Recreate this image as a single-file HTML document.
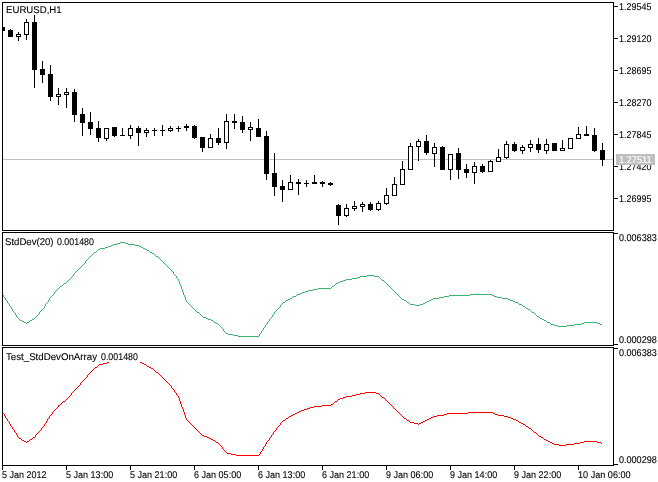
<!DOCTYPE html>
<html lang="en">
<head>
<meta charset="utf-8">
<title>EURUSD,H1</title>
<style>
html,body{margin:0;padding:0;background:#fff;}
svg{display:block}
text{font-family:"Liberation Sans", sans-serif;font-size:9.8px;white-space:pre;text-rendering:geometricPrecision;stroke-width:0.1px}
</style>
</head>
<body>
<svg width="658" height="482" viewBox="0 0 658 482" shape-rendering="crispEdges">
<rect x="0" y="0" width="658" height="482" fill="#fff"/>
<rect x="3" y="159" width="610" height="1" fill="#c0c0c0"/>
<rect x="2" y="27" width="1" height="4" fill="#000"/>
<rect x="3" y="27" width="2" height="4" fill="#000"/>
<rect x="10" y="29" width="1" height="8" fill="#000"/>
<rect x="8" y="30" width="5" height="7" fill="#000"/>
<rect x="18" y="32" width="1" height="9" fill="#000"/>
<rect x="16" y="34" width="5" height="3" fill="#000"/>
<rect x="17" y="35" width="3" height="1" fill="#fff"/>
<rect x="26" y="19" width="1" height="21" fill="#000"/>
<rect x="24" y="22" width="5" height="13" fill="#000"/>
<rect x="25" y="23" width="3" height="11" fill="#fff"/>
<rect x="34" y="15" width="1" height="73" fill="#000"/>
<rect x="32" y="22" width="5" height="48" fill="#000"/>
<rect x="42" y="61" width="1" height="22" fill="#000"/>
<rect x="40" y="69" width="5" height="6" fill="#000"/>
<rect x="50" y="65" width="1" height="36" fill="#000"/>
<rect x="48" y="74" width="5" height="23" fill="#000"/>
<rect x="58" y="88" width="1" height="17" fill="#000"/>
<rect x="56" y="94" width="5" height="3" fill="#000"/>
<rect x="57" y="95" width="3" height="1" fill="#fff"/>
<rect x="66" y="88" width="1" height="20" fill="#000"/>
<rect x="64" y="92" width="5" height="3" fill="#000"/>
<rect x="65" y="93" width="3" height="1" fill="#fff"/>
<rect x="74" y="89" width="1" height="33" fill="#000"/>
<rect x="72" y="92" width="5" height="23" fill="#000"/>
<rect x="82" y="108" width="1" height="28" fill="#000"/>
<rect x="80" y="114" width="5" height="9" fill="#000"/>
<rect x="90" y="112" width="1" height="23" fill="#000"/>
<rect x="88" y="122" width="5" height="7" fill="#000"/>
<rect x="98" y="121" width="1" height="21" fill="#000"/>
<rect x="96" y="128" width="5" height="10" fill="#000"/>
<rect x="106" y="128" width="1" height="13" fill="#000"/>
<rect x="104" y="128" width="5" height="11" fill="#000"/>
<rect x="105" y="129" width="3" height="9" fill="#fff"/>
<rect x="114" y="127" width="1" height="10" fill="#000"/>
<rect x="112" y="127" width="5" height="9" fill="#000"/>
<rect x="122" y="128" width="1" height="8" fill="#000"/>
<rect x="120" y="135" width="5" height="1" fill="#000"/>
<rect x="130" y="125" width="1" height="14" fill="#000"/>
<rect x="128" y="128" width="5" height="8" fill="#000"/>
<rect x="129" y="129" width="3" height="6" fill="#fff"/>
<rect x="138" y="126" width="1" height="20" fill="#000"/>
<rect x="136" y="128" width="5" height="5" fill="#000"/>
<rect x="146" y="128" width="1" height="9" fill="#000"/>
<rect x="144" y="130" width="5" height="3" fill="#000"/>
<rect x="145" y="131" width="3" height="1" fill="#fff"/>
<rect x="154" y="128" width="1" height="8" fill="#000"/>
<rect x="152" y="130" width="5" height="1" fill="#000"/>
<rect x="162" y="125" width="1" height="11" fill="#000"/>
<rect x="160" y="130" width="5" height="1" fill="#000"/>
<rect x="170" y="126" width="1" height="6" fill="#000"/>
<rect x="168" y="128" width="5" height="3" fill="#000"/>
<rect x="169" y="129" width="3" height="1" fill="#fff"/>
<rect x="178" y="126" width="1" height="6" fill="#000"/>
<rect x="176" y="128" width="5" height="1" fill="#000"/>
<rect x="186" y="124" width="1" height="7" fill="#000"/>
<rect x="184" y="126" width="5" height="2" fill="#000"/>
<rect x="194" y="125" width="1" height="14" fill="#000"/>
<rect x="192" y="126" width="5" height="12" fill="#000"/>
<rect x="202" y="137" width="1" height="15" fill="#000"/>
<rect x="200" y="137" width="5" height="11" fill="#000"/>
<rect x="210" y="134" width="1" height="14" fill="#000"/>
<rect x="208" y="138" width="5" height="10" fill="#000"/>
<rect x="209" y="139" width="3" height="8" fill="#fff"/>
<rect x="218" y="128" width="1" height="17" fill="#000"/>
<rect x="216" y="138" width="5" height="5" fill="#000"/>
<rect x="226" y="114" width="1" height="35" fill="#000"/>
<rect x="224" y="121" width="5" height="22" fill="#000"/>
<rect x="225" y="122" width="3" height="20" fill="#fff"/>
<rect x="234" y="114" width="1" height="15" fill="#000"/>
<rect x="232" y="121" width="5" height="2" fill="#000"/>
<rect x="242" y="116" width="1" height="17" fill="#000"/>
<rect x="240" y="122" width="5" height="8" fill="#000"/>
<rect x="250" y="122" width="1" height="19" fill="#000"/>
<rect x="248" y="127" width="5" height="3" fill="#000"/>
<rect x="249" y="128" width="3" height="1" fill="#fff"/>
<rect x="258" y="119" width="1" height="18" fill="#000"/>
<rect x="256" y="128" width="5" height="9" fill="#000"/>
<rect x="266" y="131" width="1" height="49" fill="#000"/>
<rect x="264" y="136" width="5" height="38" fill="#000"/>
<rect x="274" y="153" width="1" height="43" fill="#000"/>
<rect x="272" y="173" width="5" height="14" fill="#000"/>
<rect x="282" y="180" width="1" height="22" fill="#000"/>
<rect x="280" y="186" width="5" height="4" fill="#000"/>
<rect x="290" y="175" width="1" height="15" fill="#000"/>
<rect x="288" y="182" width="5" height="8" fill="#000"/>
<rect x="289" y="183" width="3" height="6" fill="#fff"/>
<rect x="298" y="179" width="1" height="16" fill="#000"/>
<rect x="296" y="182" width="5" height="2" fill="#000"/>
<rect x="306" y="180" width="1" height="7" fill="#000"/>
<rect x="304" y="183" width="5" height="1" fill="#000"/>
<rect x="314" y="175" width="1" height="9" fill="#000"/>
<rect x="312" y="182" width="5" height="2" fill="#000"/>
<rect x="322" y="181" width="1" height="6" fill="#000"/>
<rect x="320" y="182" width="5" height="2" fill="#000"/>
<rect x="330" y="182" width="1" height="4" fill="#000"/>
<rect x="328" y="183" width="5" height="2" fill="#000"/>
<rect x="338" y="204" width="1" height="21" fill="#000"/>
<rect x="336" y="205" width="5" height="11" fill="#000"/>
<rect x="346" y="204" width="1" height="13" fill="#000"/>
<rect x="344" y="208" width="5" height="8" fill="#000"/>
<rect x="345" y="209" width="3" height="6" fill="#fff"/>
<rect x="354" y="201" width="1" height="10" fill="#000"/>
<rect x="352" y="206" width="5" height="3" fill="#000"/>
<rect x="353" y="207" width="3" height="1" fill="#fff"/>
<rect x="362" y="202" width="1" height="10" fill="#000"/>
<rect x="360" y="204" width="5" height="3" fill="#000"/>
<rect x="361" y="205" width="3" height="1" fill="#fff"/>
<rect x="370" y="202" width="1" height="9" fill="#000"/>
<rect x="368" y="204" width="5" height="6" fill="#000"/>
<rect x="378" y="201" width="1" height="10" fill="#000"/>
<rect x="376" y="203" width="5" height="7" fill="#000"/>
<rect x="377" y="204" width="3" height="5" fill="#fff"/>
<rect x="386" y="188" width="1" height="17" fill="#000"/>
<rect x="384" y="195" width="5" height="9" fill="#000"/>
<rect x="385" y="196" width="3" height="7" fill="#fff"/>
<rect x="394" y="177" width="1" height="19" fill="#000"/>
<rect x="392" y="184" width="5" height="12" fill="#000"/>
<rect x="393" y="185" width="3" height="10" fill="#fff"/>
<rect x="402" y="161" width="1" height="24" fill="#000"/>
<rect x="400" y="169" width="5" height="16" fill="#000"/>
<rect x="401" y="170" width="3" height="14" fill="#fff"/>
<rect x="410" y="143" width="1" height="27" fill="#000"/>
<rect x="408" y="146" width="5" height="24" fill="#000"/>
<rect x="409" y="147" width="3" height="22" fill="#fff"/>
<rect x="418" y="139" width="1" height="22" fill="#000"/>
<rect x="416" y="141" width="5" height="6" fill="#000"/>
<rect x="417" y="142" width="3" height="4" fill="#fff"/>
<rect x="426" y="135" width="1" height="20" fill="#000"/>
<rect x="424" y="141" width="5" height="12" fill="#000"/>
<rect x="434" y="143" width="1" height="24" fill="#000"/>
<rect x="432" y="147" width="5" height="7" fill="#000"/>
<rect x="433" y="148" width="3" height="5" fill="#fff"/>
<rect x="442" y="146" width="1" height="24" fill="#000"/>
<rect x="440" y="147" width="5" height="23" fill="#000"/>
<rect x="450" y="154" width="1" height="26" fill="#000"/>
<rect x="448" y="154" width="5" height="16" fill="#000"/>
<rect x="449" y="155" width="3" height="14" fill="#fff"/>
<rect x="458" y="148" width="1" height="31" fill="#000"/>
<rect x="456" y="153" width="5" height="17" fill="#000"/>
<rect x="466" y="164" width="1" height="14" fill="#000"/>
<rect x="464" y="169" width="5" height="4" fill="#000"/>
<rect x="474" y="162" width="1" height="22" fill="#000"/>
<rect x="472" y="166" width="5" height="7" fill="#000"/>
<rect x="473" y="167" width="3" height="5" fill="#fff"/>
<rect x="482" y="164" width="1" height="9" fill="#000"/>
<rect x="480" y="166" width="5" height="6" fill="#000"/>
<rect x="490" y="160" width="1" height="12" fill="#000"/>
<rect x="488" y="161" width="5" height="11" fill="#000"/>
<rect x="489" y="162" width="3" height="9" fill="#fff"/>
<rect x="498" y="149" width="1" height="13" fill="#000"/>
<rect x="496" y="157" width="5" height="5" fill="#000"/>
<rect x="497" y="158" width="3" height="3" fill="#fff"/>
<rect x="506" y="141" width="1" height="18" fill="#000"/>
<rect x="504" y="144" width="5" height="14" fill="#000"/>
<rect x="505" y="145" width="3" height="12" fill="#fff"/>
<rect x="514" y="142" width="1" height="10" fill="#000"/>
<rect x="512" y="144" width="5" height="7" fill="#000"/>
<rect x="522" y="145" width="1" height="9" fill="#000"/>
<rect x="520" y="147" width="5" height="4" fill="#000"/>
<rect x="521" y="148" width="3" height="2" fill="#fff"/>
<rect x="530" y="140" width="1" height="12" fill="#000"/>
<rect x="528" y="144" width="5" height="4" fill="#000"/>
<rect x="529" y="145" width="3" height="2" fill="#fff"/>
<rect x="538" y="138" width="1" height="15" fill="#000"/>
<rect x="536" y="144" width="5" height="6" fill="#000"/>
<rect x="546" y="139" width="1" height="15" fill="#000"/>
<rect x="544" y="144" width="5" height="7" fill="#000"/>
<rect x="545" y="145" width="3" height="5" fill="#fff"/>
<rect x="554" y="143" width="1" height="8" fill="#000"/>
<rect x="552" y="143" width="5" height="8" fill="#000"/>
<rect x="562" y="140" width="1" height="11" fill="#000"/>
<rect x="560" y="148" width="5" height="3" fill="#000"/>
<rect x="561" y="149" width="3" height="1" fill="#fff"/>
<rect x="570" y="138" width="1" height="11" fill="#000"/>
<rect x="568" y="138" width="5" height="11" fill="#000"/>
<rect x="569" y="139" width="3" height="9" fill="#fff"/>
<rect x="578" y="127" width="1" height="12" fill="#000"/>
<rect x="576" y="134" width="5" height="5" fill="#000"/>
<rect x="577" y="135" width="3" height="3" fill="#fff"/>
<rect x="586" y="126" width="1" height="10" fill="#000"/>
<rect x="584" y="134" width="5" height="2" fill="#000"/>
<rect x="594" y="128" width="1" height="24" fill="#000"/>
<rect x="592" y="135" width="5" height="16" fill="#000"/>
<rect x="602" y="143" width="1" height="23" fill="#000"/>
<rect x="600" y="150" width="5" height="10" fill="#000"/>
<rect x="3" y="295" width="1" height="1" fill="#3cb371"/>
<rect x="52" y="295" width="1" height="1" fill="#3cb371"/>
<rect x="184" y="295" width="1" height="1" fill="#3cb371"/>
<rect x="296" y="295" width="1" height="1" fill="#3cb371"/>
<rect x="398" y="295" width="1" height="1" fill="#3cb371"/>
<rect x="449" y="295" width="21" height="1" fill="#3cb371"/>
<rect x="492" y="295" width="2" height="1" fill="#3cb371"/>
<rect x="3" y="296" width="1" height="1" fill="#3cb371"/>
<rect x="51" y="296" width="1" height="1" fill="#3cb371"/>
<rect x="184" y="296" width="1" height="1" fill="#3cb371"/>
<rect x="293" y="296" width="3" height="1" fill="#3cb371"/>
<rect x="399" y="296" width="1" height="1" fill="#3cb371"/>
<rect x="444" y="296" width="5" height="1" fill="#3cb371"/>
<rect x="494" y="296" width="3" height="1" fill="#3cb371"/>
<rect x="4" y="297" width="1" height="1" fill="#3cb371"/>
<rect x="50" y="297" width="1" height="1" fill="#3cb371"/>
<rect x="185" y="297" width="1" height="1" fill="#3cb371"/>
<rect x="292" y="297" width="1" height="1" fill="#3cb371"/>
<rect x="400" y="297" width="1" height="1" fill="#3cb371"/>
<rect x="439" y="297" width="5" height="1" fill="#3cb371"/>
<rect x="497" y="297" width="5" height="1" fill="#3cb371"/>
<rect x="5" y="298" width="1" height="1" fill="#3cb371"/>
<rect x="49" y="298" width="1" height="1" fill="#3cb371"/>
<rect x="185" y="298" width="1" height="1" fill="#3cb371"/>
<rect x="290" y="298" width="2" height="1" fill="#3cb371"/>
<rect x="401" y="298" width="1" height="1" fill="#3cb371"/>
<rect x="433" y="298" width="6" height="1" fill="#3cb371"/>
<rect x="502" y="298" width="6" height="1" fill="#3cb371"/>
<rect x="5" y="299" width="1" height="1" fill="#3cb371"/>
<rect x="49" y="299" width="1" height="1" fill="#3cb371"/>
<rect x="185" y="299" width="1" height="1" fill="#3cb371"/>
<rect x="288" y="299" width="2" height="1" fill="#3cb371"/>
<rect x="402" y="299" width="2" height="1" fill="#3cb371"/>
<rect x="431" y="299" width="2" height="1" fill="#3cb371"/>
<rect x="508" y="299" width="2" height="1" fill="#3cb371"/>
<rect x="6" y="300" width="1" height="1" fill="#3cb371"/>
<rect x="48" y="300" width="1" height="1" fill="#3cb371"/>
<rect x="186" y="300" width="1" height="1" fill="#3cb371"/>
<rect x="286" y="300" width="2" height="1" fill="#3cb371"/>
<rect x="404" y="300" width="2" height="1" fill="#3cb371"/>
<rect x="429" y="300" width="2" height="1" fill="#3cb371"/>
<rect x="510" y="300" width="3" height="1" fill="#3cb371"/>
<rect x="7" y="301" width="1" height="1" fill="#3cb371"/>
<rect x="48" y="301" width="1" height="1" fill="#3cb371"/>
<rect x="186" y="301" width="1" height="1" fill="#3cb371"/>
<rect x="285" y="301" width="1" height="1" fill="#3cb371"/>
<rect x="406" y="301" width="1" height="1" fill="#3cb371"/>
<rect x="427" y="301" width="2" height="1" fill="#3cb371"/>
<rect x="513" y="301" width="2" height="1" fill="#3cb371"/>
<rect x="7" y="302" width="1" height="1" fill="#3cb371"/>
<rect x="47" y="302" width="1" height="1" fill="#3cb371"/>
<rect x="187" y="302" width="1" height="1" fill="#3cb371"/>
<rect x="283" y="302" width="2" height="1" fill="#3cb371"/>
<rect x="407" y="302" width="2" height="1" fill="#3cb371"/>
<rect x="425" y="302" width="2" height="1" fill="#3cb371"/>
<rect x="515" y="302" width="3" height="1" fill="#3cb371"/>
<rect x="8" y="303" width="1" height="1" fill="#3cb371"/>
<rect x="46" y="303" width="1" height="1" fill="#3cb371"/>
<rect x="188" y="303" width="1" height="1" fill="#3cb371"/>
<rect x="282" y="303" width="1" height="1" fill="#3cb371"/>
<rect x="409" y="303" width="1" height="1" fill="#3cb371"/>
<rect x="423" y="303" width="2" height="1" fill="#3cb371"/>
<rect x="518" y="303" width="1" height="1" fill="#3cb371"/>
<rect x="9" y="304" width="1" height="1" fill="#3cb371"/>
<rect x="45" y="304" width="1" height="1" fill="#3cb371"/>
<rect x="189" y="304" width="1" height="1" fill="#3cb371"/>
<rect x="281" y="304" width="1" height="1" fill="#3cb371"/>
<rect x="410" y="304" width="5" height="1" fill="#3cb371"/>
<rect x="420" y="304" width="3" height="1" fill="#3cb371"/>
<rect x="519" y="304" width="3" height="1" fill="#3cb371"/>
<rect x="9" y="305" width="1" height="1" fill="#3cb371"/>
<rect x="45" y="305" width="1" height="1" fill="#3cb371"/>
<rect x="190" y="305" width="1" height="1" fill="#3cb371"/>
<rect x="280" y="305" width="1" height="1" fill="#3cb371"/>
<rect x="415" y="305" width="5" height="1" fill="#3cb371"/>
<rect x="522" y="305" width="1" height="1" fill="#3cb371"/>
<rect x="10" y="306" width="1" height="1" fill="#3cb371"/>
<rect x="44" y="306" width="1" height="1" fill="#3cb371"/>
<rect x="191" y="306" width="1" height="1" fill="#3cb371"/>
<rect x="280" y="306" width="1" height="1" fill="#3cb371"/>
<rect x="523" y="306" width="2" height="1" fill="#3cb371"/>
<rect x="11" y="307" width="1" height="1" fill="#3cb371"/>
<rect x="44" y="307" width="1" height="1" fill="#3cb371"/>
<rect x="192" y="307" width="1" height="1" fill="#3cb371"/>
<rect x="279" y="307" width="1" height="1" fill="#3cb371"/>
<rect x="525" y="307" width="1" height="1" fill="#3cb371"/>
<rect x="11" y="308" width="1" height="1" fill="#3cb371"/>
<rect x="43" y="308" width="1" height="1" fill="#3cb371"/>
<rect x="193" y="308" width="1" height="1" fill="#3cb371"/>
<rect x="278" y="308" width="1" height="1" fill="#3cb371"/>
<rect x="526" y="308" width="2" height="1" fill="#3cb371"/>
<rect x="12" y="309" width="1" height="1" fill="#3cb371"/>
<rect x="42" y="309" width="1" height="1" fill="#3cb371"/>
<rect x="194" y="309" width="1" height="1" fill="#3cb371"/>
<rect x="277" y="309" width="1" height="1" fill="#3cb371"/>
<rect x="528" y="309" width="2" height="1" fill="#3cb371"/>
<rect x="12" y="310" width="1" height="1" fill="#3cb371"/>
<rect x="41" y="310" width="1" height="1" fill="#3cb371"/>
<rect x="195" y="310" width="1" height="1" fill="#3cb371"/>
<rect x="276" y="310" width="1" height="1" fill="#3cb371"/>
<rect x="530" y="310" width="1" height="1" fill="#3cb371"/>
<rect x="13" y="311" width="1" height="1" fill="#3cb371"/>
<rect x="40" y="311" width="1" height="1" fill="#3cb371"/>
<rect x="196" y="311" width="1" height="1" fill="#3cb371"/>
<rect x="275" y="311" width="1" height="1" fill="#3cb371"/>
<rect x="531" y="311" width="1" height="1" fill="#3cb371"/>
<rect x="14" y="312" width="1" height="1" fill="#3cb371"/>
<rect x="39" y="312" width="1" height="1" fill="#3cb371"/>
<rect x="197" y="312" width="2" height="1" fill="#3cb371"/>
<rect x="274" y="312" width="1" height="1" fill="#3cb371"/>
<rect x="532" y="312" width="2" height="1" fill="#3cb371"/>
<rect x="15" y="313" width="1" height="1" fill="#3cb371"/>
<rect x="39" y="313" width="1" height="1" fill="#3cb371"/>
<rect x="199" y="313" width="1" height="1" fill="#3cb371"/>
<rect x="274" y="313" width="1" height="1" fill="#3cb371"/>
<rect x="534" y="313" width="1" height="1" fill="#3cb371"/>
<rect x="15" y="314" width="1" height="1" fill="#3cb371"/>
<rect x="38" y="314" width="1" height="1" fill="#3cb371"/>
<rect x="200" y="314" width="1" height="1" fill="#3cb371"/>
<rect x="273" y="314" width="1" height="1" fill="#3cb371"/>
<rect x="535" y="314" width="1" height="1" fill="#3cb371"/>
<rect x="16" y="315" width="1" height="1" fill="#3cb371"/>
<rect x="37" y="315" width="1" height="1" fill="#3cb371"/>
<rect x="201" y="315" width="1" height="1" fill="#3cb371"/>
<rect x="272" y="315" width="1" height="1" fill="#3cb371"/>
<rect x="536" y="315" width="1" height="1" fill="#3cb371"/>
<rect x="16" y="316" width="1" height="1" fill="#3cb371"/>
<rect x="36" y="316" width="1" height="1" fill="#3cb371"/>
<rect x="202" y="316" width="1" height="1" fill="#3cb371"/>
<rect x="272" y="316" width="1" height="1" fill="#3cb371"/>
<rect x="537" y="316" width="2" height="1" fill="#3cb371"/>
<rect x="17" y="317" width="1" height="1" fill="#3cb371"/>
<rect x="35" y="317" width="1" height="1" fill="#3cb371"/>
<rect x="203" y="317" width="3" height="1" fill="#3cb371"/>
<rect x="271" y="317" width="1" height="1" fill="#3cb371"/>
<rect x="539" y="317" width="1" height="1" fill="#3cb371"/>
<rect x="18" y="318" width="1" height="1" fill="#3cb371"/>
<rect x="34" y="318" width="1" height="1" fill="#3cb371"/>
<rect x="206" y="318" width="2" height="1" fill="#3cb371"/>
<rect x="270" y="318" width="1" height="1" fill="#3cb371"/>
<rect x="540" y="318" width="2" height="1" fill="#3cb371"/>
<rect x="19" y="319" width="1" height="1" fill="#3cb371"/>
<rect x="32" y="319" width="2" height="1" fill="#3cb371"/>
<rect x="208" y="319" width="3" height="1" fill="#3cb371"/>
<rect x="269" y="319" width="1" height="1" fill="#3cb371"/>
<rect x="542" y="319" width="2" height="1" fill="#3cb371"/>
<rect x="20" y="320" width="2" height="1" fill="#3cb371"/>
<rect x="30" y="320" width="2" height="1" fill="#3cb371"/>
<rect x="211" y="320" width="2" height="1" fill="#3cb371"/>
<rect x="269" y="320" width="1" height="1" fill="#3cb371"/>
<rect x="544" y="320" width="2" height="1" fill="#3cb371"/>
<rect x="22" y="321" width="2" height="1" fill="#3cb371"/>
<rect x="29" y="321" width="1" height="1" fill="#3cb371"/>
<rect x="213" y="321" width="1" height="1" fill="#3cb371"/>
<rect x="268" y="321" width="1" height="1" fill="#3cb371"/>
<rect x="546" y="321" width="1" height="1" fill="#3cb371"/>
<rect x="24" y="322" width="2" height="1" fill="#3cb371"/>
<rect x="27" y="322" width="2" height="1" fill="#3cb371"/>
<rect x="214" y="322" width="2" height="1" fill="#3cb371"/>
<rect x="267" y="322" width="1" height="1" fill="#3cb371"/>
<rect x="547" y="322" width="3" height="1" fill="#3cb371"/>
<rect x="584" y="322" width="13" height="1" fill="#3cb371"/>
<rect x="26" y="323" width="1" height="1" fill="#3cb371"/>
<rect x="216" y="323" width="2" height="1" fill="#3cb371"/>
<rect x="267" y="323" width="1" height="1" fill="#3cb371"/>
<rect x="550" y="323" width="1" height="1" fill="#3cb371"/>
<rect x="581" y="323" width="3" height="1" fill="#3cb371"/>
<rect x="597" y="323" width="3" height="1" fill="#3cb371"/>
<rect x="53" y="294" width="1" height="1" fill="#3cb371"/>
<rect x="183" y="294" width="1" height="1" fill="#3cb371"/>
<rect x="297" y="294" width="3" height="1" fill="#3cb371"/>
<rect x="397" y="294" width="1" height="1" fill="#3cb371"/>
<rect x="470" y="294" width="22" height="1" fill="#3cb371"/>
<rect x="54" y="292" width="1" height="1" fill="#3cb371"/>
<rect x="183" y="292" width="1" height="1" fill="#3cb371"/>
<rect x="302" y="292" width="3" height="1" fill="#3cb371"/>
<rect x="395" y="292" width="1" height="1" fill="#3cb371"/>
<rect x="54" y="293" width="1" height="1" fill="#3cb371"/>
<rect x="183" y="293" width="1" height="1" fill="#3cb371"/>
<rect x="300" y="293" width="2" height="1" fill="#3cb371"/>
<rect x="396" y="293" width="1" height="1" fill="#3cb371"/>
<rect x="55" y="291" width="1" height="1" fill="#3cb371"/>
<rect x="182" y="291" width="1" height="1" fill="#3cb371"/>
<rect x="305" y="291" width="3" height="1" fill="#3cb371"/>
<rect x="394" y="291" width="1" height="1" fill="#3cb371"/>
<rect x="56" y="290" width="1" height="1" fill="#3cb371"/>
<rect x="182" y="290" width="1" height="1" fill="#3cb371"/>
<rect x="308" y="290" width="5" height="1" fill="#3cb371"/>
<rect x="393" y="290" width="1" height="1" fill="#3cb371"/>
<rect x="57" y="289" width="1" height="1" fill="#3cb371"/>
<rect x="182" y="289" width="1" height="1" fill="#3cb371"/>
<rect x="313" y="289" width="5" height="1" fill="#3cb371"/>
<rect x="392" y="289" width="1" height="1" fill="#3cb371"/>
<rect x="58" y="288" width="1" height="1" fill="#3cb371"/>
<rect x="181" y="288" width="1" height="1" fill="#3cb371"/>
<rect x="318" y="288" width="13" height="1" fill="#3cb371"/>
<rect x="391" y="288" width="1" height="1" fill="#3cb371"/>
<rect x="59" y="287" width="1" height="1" fill="#3cb371"/>
<rect x="181" y="287" width="1" height="1" fill="#3cb371"/>
<rect x="331" y="287" width="1" height="1" fill="#3cb371"/>
<rect x="390" y="287" width="1" height="1" fill="#3cb371"/>
<rect x="60" y="286" width="2" height="1" fill="#3cb371"/>
<rect x="181" y="286" width="1" height="1" fill="#3cb371"/>
<rect x="332" y="286" width="2" height="1" fill="#3cb371"/>
<rect x="389" y="286" width="1" height="1" fill="#3cb371"/>
<rect x="62" y="285" width="1" height="1" fill="#3cb371"/>
<rect x="180" y="285" width="1" height="1" fill="#3cb371"/>
<rect x="334" y="285" width="1" height="1" fill="#3cb371"/>
<rect x="388" y="285" width="1" height="1" fill="#3cb371"/>
<rect x="63" y="284" width="1" height="1" fill="#3cb371"/>
<rect x="180" y="284" width="1" height="1" fill="#3cb371"/>
<rect x="335" y="284" width="1" height="1" fill="#3cb371"/>
<rect x="387" y="284" width="1" height="1" fill="#3cb371"/>
<rect x="64" y="283" width="2" height="1" fill="#3cb371"/>
<rect x="179" y="283" width="1" height="1" fill="#3cb371"/>
<rect x="336" y="283" width="2" height="1" fill="#3cb371"/>
<rect x="386" y="283" width="1" height="1" fill="#3cb371"/>
<rect x="66" y="282" width="1" height="1" fill="#3cb371"/>
<rect x="179" y="282" width="1" height="1" fill="#3cb371"/>
<rect x="338" y="282" width="2" height="1" fill="#3cb371"/>
<rect x="385" y="282" width="1" height="1" fill="#3cb371"/>
<rect x="67" y="281" width="1" height="1" fill="#3cb371"/>
<rect x="179" y="281" width="1" height="1" fill="#3cb371"/>
<rect x="340" y="281" width="3" height="1" fill="#3cb371"/>
<rect x="384" y="281" width="1" height="1" fill="#3cb371"/>
<rect x="68" y="280" width="1" height="1" fill="#3cb371"/>
<rect x="178" y="280" width="1" height="1" fill="#3cb371"/>
<rect x="343" y="280" width="3" height="1" fill="#3cb371"/>
<rect x="382" y="280" width="2" height="1" fill="#3cb371"/>
<rect x="69" y="279" width="1" height="1" fill="#3cb371"/>
<rect x="178" y="279" width="1" height="1" fill="#3cb371"/>
<rect x="346" y="279" width="6" height="1" fill="#3cb371"/>
<rect x="381" y="279" width="1" height="1" fill="#3cb371"/>
<rect x="70" y="278" width="1" height="1" fill="#3cb371"/>
<rect x="177" y="278" width="1" height="1" fill="#3cb371"/>
<rect x="352" y="278" width="5" height="1" fill="#3cb371"/>
<rect x="380" y="278" width="1" height="1" fill="#3cb371"/>
<rect x="71" y="277" width="1" height="1" fill="#3cb371"/>
<rect x="176" y="277" width="1" height="1" fill="#3cb371"/>
<rect x="357" y="277" width="3" height="1" fill="#3cb371"/>
<rect x="379" y="277" width="1" height="1" fill="#3cb371"/>
<rect x="72" y="276" width="1" height="1" fill="#3cb371"/>
<rect x="176" y="276" width="1" height="1" fill="#3cb371"/>
<rect x="360" y="276" width="7" height="1" fill="#3cb371"/>
<rect x="374" y="276" width="5" height="1" fill="#3cb371"/>
<rect x="73" y="274" width="1" height="1" fill="#3cb371"/>
<rect x="174" y="274" width="1" height="1" fill="#3cb371"/>
<rect x="73" y="275" width="1" height="1" fill="#3cb371"/>
<rect x="175" y="275" width="1" height="1" fill="#3cb371"/>
<rect x="367" y="275" width="7" height="1" fill="#3cb371"/>
<rect x="74" y="273" width="1" height="1" fill="#3cb371"/>
<rect x="173" y="273" width="1" height="1" fill="#3cb371"/>
<rect x="75" y="272" width="1" height="1" fill="#3cb371"/>
<rect x="173" y="272" width="1" height="1" fill="#3cb371"/>
<rect x="76" y="271" width="1" height="1" fill="#3cb371"/>
<rect x="172" y="271" width="1" height="1" fill="#3cb371"/>
<rect x="77" y="270" width="1" height="1" fill="#3cb371"/>
<rect x="171" y="270" width="1" height="1" fill="#3cb371"/>
<rect x="78" y="269" width="1" height="1" fill="#3cb371"/>
<rect x="170" y="269" width="1" height="1" fill="#3cb371"/>
<rect x="79" y="268" width="1" height="1" fill="#3cb371"/>
<rect x="169" y="268" width="1" height="1" fill="#3cb371"/>
<rect x="80" y="267" width="1" height="1" fill="#3cb371"/>
<rect x="168" y="267" width="1" height="1" fill="#3cb371"/>
<rect x="81" y="266" width="1" height="1" fill="#3cb371"/>
<rect x="167" y="266" width="1" height="1" fill="#3cb371"/>
<rect x="82" y="265" width="1" height="1" fill="#3cb371"/>
<rect x="166" y="265" width="1" height="1" fill="#3cb371"/>
<rect x="83" y="264" width="1" height="1" fill="#3cb371"/>
<rect x="165" y="264" width="1" height="1" fill="#3cb371"/>
<rect x="84" y="263" width="1" height="1" fill="#3cb371"/>
<rect x="164" y="263" width="1" height="1" fill="#3cb371"/>
<rect x="85" y="261" width="1" height="1" fill="#3cb371"/>
<rect x="162" y="261" width="1" height="1" fill="#3cb371"/>
<rect x="85" y="262" width="1" height="1" fill="#3cb371"/>
<rect x="163" y="262" width="1" height="1" fill="#3cb371"/>
<rect x="86" y="260" width="1" height="1" fill="#3cb371"/>
<rect x="161" y="260" width="1" height="1" fill="#3cb371"/>
<rect x="87" y="259" width="1" height="1" fill="#3cb371"/>
<rect x="160" y="259" width="1" height="1" fill="#3cb371"/>
<rect x="88" y="258" width="1" height="1" fill="#3cb371"/>
<rect x="159" y="258" width="1" height="1" fill="#3cb371"/>
<rect x="89" y="257" width="1" height="1" fill="#3cb371"/>
<rect x="158" y="257" width="1" height="1" fill="#3cb371"/>
<rect x="90" y="256" width="1" height="1" fill="#3cb371"/>
<rect x="156" y="256" width="2" height="1" fill="#3cb371"/>
<rect x="91" y="255" width="1" height="1" fill="#3cb371"/>
<rect x="155" y="255" width="1" height="1" fill="#3cb371"/>
<rect x="92" y="254" width="1" height="1" fill="#3cb371"/>
<rect x="154" y="254" width="1" height="1" fill="#3cb371"/>
<rect x="93" y="253" width="1" height="1" fill="#3cb371"/>
<rect x="152" y="253" width="2" height="1" fill="#3cb371"/>
<rect x="94" y="252" width="2" height="1" fill="#3cb371"/>
<rect x="150" y="252" width="2" height="1" fill="#3cb371"/>
<rect x="96" y="251" width="1" height="1" fill="#3cb371"/>
<rect x="149" y="251" width="1" height="1" fill="#3cb371"/>
<rect x="97" y="250" width="1" height="1" fill="#3cb371"/>
<rect x="147" y="250" width="2" height="1" fill="#3cb371"/>
<rect x="98" y="249" width="2" height="1" fill="#3cb371"/>
<rect x="145" y="249" width="2" height="1" fill="#3cb371"/>
<rect x="100" y="248" width="5" height="1" fill="#3cb371"/>
<rect x="143" y="248" width="2" height="1" fill="#3cb371"/>
<rect x="105" y="247" width="3" height="1" fill="#3cb371"/>
<rect x="141" y="247" width="2" height="1" fill="#3cb371"/>
<rect x="108" y="246" width="3" height="1" fill="#3cb371"/>
<rect x="139" y="246" width="2" height="1" fill="#3cb371"/>
<rect x="111" y="245" width="2" height="1" fill="#3cb371"/>
<rect x="135" y="245" width="4" height="1" fill="#3cb371"/>
<rect x="113" y="244" width="4" height="1" fill="#3cb371"/>
<rect x="128" y="244" width="7" height="1" fill="#3cb371"/>
<rect x="117" y="243" width="3" height="1" fill="#3cb371"/>
<rect x="125" y="243" width="3" height="1" fill="#3cb371"/>
<rect x="120" y="242" width="5" height="1" fill="#3cb371"/>
<rect x="218" y="324" width="1" height="1" fill="#3cb371"/>
<rect x="266" y="324" width="1" height="1" fill="#3cb371"/>
<rect x="551" y="324" width="3" height="1" fill="#3cb371"/>
<rect x="574" y="324" width="7" height="1" fill="#3cb371"/>
<rect x="600" y="324" width="2" height="1" fill="#3cb371"/>
<rect x="219" y="325" width="1" height="1" fill="#3cb371"/>
<rect x="265" y="325" width="1" height="1" fill="#3cb371"/>
<rect x="554" y="325" width="4" height="1" fill="#3cb371"/>
<rect x="567" y="325" width="7" height="1" fill="#3cb371"/>
<rect x="220" y="326" width="1" height="1" fill="#3cb371"/>
<rect x="265" y="326" width="1" height="1" fill="#3cb371"/>
<rect x="558" y="326" width="9" height="1" fill="#3cb371"/>
<rect x="221" y="327" width="1" height="1" fill="#3cb371"/>
<rect x="264" y="327" width="1" height="1" fill="#3cb371"/>
<rect x="222" y="328" width="1" height="1" fill="#3cb371"/>
<rect x="263" y="328" width="1" height="1" fill="#3cb371"/>
<rect x="223" y="329" width="1" height="1" fill="#3cb371"/>
<rect x="263" y="329" width="1" height="1" fill="#3cb371"/>
<rect x="223" y="330" width="1" height="1" fill="#3cb371"/>
<rect x="262" y="330" width="1" height="1" fill="#3cb371"/>
<rect x="224" y="331" width="1" height="1" fill="#3cb371"/>
<rect x="261" y="331" width="1" height="1" fill="#3cb371"/>
<rect x="225" y="332" width="1" height="1" fill="#3cb371"/>
<rect x="261" y="332" width="1" height="1" fill="#3cb371"/>
<rect x="226" y="333" width="2" height="1" fill="#3cb371"/>
<rect x="260" y="333" width="1" height="1" fill="#3cb371"/>
<rect x="228" y="334" width="5" height="1" fill="#3cb371"/>
<rect x="259" y="334" width="1" height="1" fill="#3cb371"/>
<rect x="233" y="335" width="5" height="1" fill="#3cb371"/>
<rect x="259" y="335" width="1" height="1" fill="#3cb371"/>
<rect x="238" y="336" width="21" height="1" fill="#3cb371"/>
<rect x="3" y="413" width="1" height="1" fill="#ff0000"/>
<rect x="52" y="413" width="1" height="1" fill="#ff0000"/>
<rect x="184" y="413" width="1" height="1" fill="#ff0000"/>
<rect x="295" y="413" width="2" height="1" fill="#ff0000"/>
<rect x="399" y="413" width="1" height="1" fill="#ff0000"/>
<rect x="447" y="413" width="21" height="1" fill="#ff0000"/>
<rect x="493" y="413" width="2" height="1" fill="#ff0000"/>
<rect x="4" y="414" width="1" height="1" fill="#ff0000"/>
<rect x="51" y="414" width="1" height="1" fill="#ff0000"/>
<rect x="184" y="414" width="1" height="1" fill="#ff0000"/>
<rect x="293" y="414" width="2" height="1" fill="#ff0000"/>
<rect x="400" y="414" width="1" height="1" fill="#ff0000"/>
<rect x="444" y="414" width="3" height="1" fill="#ff0000"/>
<rect x="495" y="414" width="3" height="1" fill="#ff0000"/>
<rect x="4" y="415" width="1" height="1" fill="#ff0000"/>
<rect x="50" y="415" width="1" height="1" fill="#ff0000"/>
<rect x="185" y="415" width="1" height="1" fill="#ff0000"/>
<rect x="291" y="415" width="2" height="1" fill="#ff0000"/>
<rect x="401" y="415" width="1" height="1" fill="#ff0000"/>
<rect x="437" y="415" width="7" height="1" fill="#ff0000"/>
<rect x="498" y="415" width="6" height="1" fill="#ff0000"/>
<rect x="5" y="416" width="1" height="1" fill="#ff0000"/>
<rect x="49" y="416" width="1" height="1" fill="#ff0000"/>
<rect x="185" y="416" width="1" height="1" fill="#ff0000"/>
<rect x="289" y="416" width="2" height="1" fill="#ff0000"/>
<rect x="402" y="416" width="1" height="1" fill="#ff0000"/>
<rect x="433" y="416" width="4" height="1" fill="#ff0000"/>
<rect x="504" y="416" width="4" height="1" fill="#ff0000"/>
<rect x="5" y="417" width="1" height="1" fill="#ff0000"/>
<rect x="49" y="417" width="1" height="1" fill="#ff0000"/>
<rect x="185" y="417" width="1" height="1" fill="#ff0000"/>
<rect x="288" y="417" width="1" height="1" fill="#ff0000"/>
<rect x="403" y="417" width="1" height="1" fill="#ff0000"/>
<rect x="431" y="417" width="2" height="1" fill="#ff0000"/>
<rect x="508" y="417" width="3" height="1" fill="#ff0000"/>
<rect x="6" y="418" width="1" height="1" fill="#ff0000"/>
<rect x="48" y="418" width="1" height="1" fill="#ff0000"/>
<rect x="186" y="418" width="1" height="1" fill="#ff0000"/>
<rect x="286" y="418" width="2" height="1" fill="#ff0000"/>
<rect x="404" y="418" width="2" height="1" fill="#ff0000"/>
<rect x="429" y="418" width="2" height="1" fill="#ff0000"/>
<rect x="511" y="418" width="2" height="1" fill="#ff0000"/>
<rect x="7" y="419" width="1" height="1" fill="#ff0000"/>
<rect x="47" y="419" width="1" height="1" fill="#ff0000"/>
<rect x="186" y="419" width="1" height="1" fill="#ff0000"/>
<rect x="285" y="419" width="1" height="1" fill="#ff0000"/>
<rect x="406" y="419" width="1" height="1" fill="#ff0000"/>
<rect x="427" y="419" width="2" height="1" fill="#ff0000"/>
<rect x="513" y="419" width="3" height="1" fill="#ff0000"/>
<rect x="7" y="420" width="1" height="1" fill="#ff0000"/>
<rect x="47" y="420" width="1" height="1" fill="#ff0000"/>
<rect x="187" y="420" width="1" height="1" fill="#ff0000"/>
<rect x="283" y="420" width="2" height="1" fill="#ff0000"/>
<rect x="407" y="420" width="2" height="1" fill="#ff0000"/>
<rect x="425" y="420" width="2" height="1" fill="#ff0000"/>
<rect x="516" y="420" width="2" height="1" fill="#ff0000"/>
<rect x="8" y="421" width="1" height="1" fill="#ff0000"/>
<rect x="46" y="421" width="1" height="1" fill="#ff0000"/>
<rect x="188" y="421" width="1" height="1" fill="#ff0000"/>
<rect x="282" y="421" width="1" height="1" fill="#ff0000"/>
<rect x="409" y="421" width="1" height="1" fill="#ff0000"/>
<rect x="423" y="421" width="2" height="1" fill="#ff0000"/>
<rect x="518" y="421" width="1" height="1" fill="#ff0000"/>
<rect x="9" y="422" width="1" height="1" fill="#ff0000"/>
<rect x="46" y="422" width="1" height="1" fill="#ff0000"/>
<rect x="189" y="422" width="1" height="1" fill="#ff0000"/>
<rect x="281" y="422" width="1" height="1" fill="#ff0000"/>
<rect x="410" y="422" width="4" height="1" fill="#ff0000"/>
<rect x="421" y="422" width="2" height="1" fill="#ff0000"/>
<rect x="519" y="422" width="2" height="1" fill="#ff0000"/>
<rect x="9" y="423" width="1" height="1" fill="#ff0000"/>
<rect x="45" y="423" width="1" height="1" fill="#ff0000"/>
<rect x="190" y="423" width="1" height="1" fill="#ff0000"/>
<rect x="280" y="423" width="1" height="1" fill="#ff0000"/>
<rect x="414" y="423" width="4" height="1" fill="#ff0000"/>
<rect x="419" y="423" width="2" height="1" fill="#ff0000"/>
<rect x="521" y="423" width="2" height="1" fill="#ff0000"/>
<rect x="10" y="424" width="1" height="1" fill="#ff0000"/>
<rect x="44" y="424" width="1" height="1" fill="#ff0000"/>
<rect x="191" y="424" width="1" height="1" fill="#ff0000"/>
<rect x="280" y="424" width="1" height="1" fill="#ff0000"/>
<rect x="418" y="424" width="1" height="1" fill="#ff0000"/>
<rect x="523" y="424" width="2" height="1" fill="#ff0000"/>
<rect x="10" y="425" width="1" height="1" fill="#ff0000"/>
<rect x="44" y="425" width="1" height="1" fill="#ff0000"/>
<rect x="192" y="425" width="1" height="1" fill="#ff0000"/>
<rect x="279" y="425" width="1" height="1" fill="#ff0000"/>
<rect x="525" y="425" width="1" height="1" fill="#ff0000"/>
<rect x="11" y="426" width="1" height="1" fill="#ff0000"/>
<rect x="43" y="426" width="1" height="1" fill="#ff0000"/>
<rect x="193" y="426" width="1" height="1" fill="#ff0000"/>
<rect x="278" y="426" width="1" height="1" fill="#ff0000"/>
<rect x="526" y="426" width="2" height="1" fill="#ff0000"/>
<rect x="12" y="427" width="1" height="1" fill="#ff0000"/>
<rect x="42" y="427" width="1" height="1" fill="#ff0000"/>
<rect x="194" y="427" width="1" height="1" fill="#ff0000"/>
<rect x="277" y="427" width="1" height="1" fill="#ff0000"/>
<rect x="528" y="427" width="1" height="1" fill="#ff0000"/>
<rect x="12" y="428" width="1" height="1" fill="#ff0000"/>
<rect x="41" y="428" width="1" height="1" fill="#ff0000"/>
<rect x="195" y="428" width="1" height="1" fill="#ff0000"/>
<rect x="276" y="428" width="1" height="1" fill="#ff0000"/>
<rect x="529" y="428" width="2" height="1" fill="#ff0000"/>
<rect x="13" y="429" width="1" height="1" fill="#ff0000"/>
<rect x="41" y="429" width="1" height="1" fill="#ff0000"/>
<rect x="196" y="429" width="1" height="1" fill="#ff0000"/>
<rect x="276" y="429" width="1" height="1" fill="#ff0000"/>
<rect x="531" y="429" width="1" height="1" fill="#ff0000"/>
<rect x="14" y="430" width="1" height="1" fill="#ff0000"/>
<rect x="40" y="430" width="1" height="1" fill="#ff0000"/>
<rect x="197" y="430" width="1" height="1" fill="#ff0000"/>
<rect x="275" y="430" width="1" height="1" fill="#ff0000"/>
<rect x="532" y="430" width="1" height="1" fill="#ff0000"/>
<rect x="14" y="431" width="1" height="1" fill="#ff0000"/>
<rect x="39" y="431" width="1" height="1" fill="#ff0000"/>
<rect x="198" y="431" width="1" height="1" fill="#ff0000"/>
<rect x="274" y="431" width="1" height="1" fill="#ff0000"/>
<rect x="533" y="431" width="1" height="1" fill="#ff0000"/>
<rect x="15" y="432" width="1" height="1" fill="#ff0000"/>
<rect x="38" y="432" width="1" height="1" fill="#ff0000"/>
<rect x="199" y="432" width="1" height="1" fill="#ff0000"/>
<rect x="273" y="432" width="1" height="1" fill="#ff0000"/>
<rect x="534" y="432" width="2" height="1" fill="#ff0000"/>
<rect x="16" y="433" width="1" height="1" fill="#ff0000"/>
<rect x="37" y="433" width="1" height="1" fill="#ff0000"/>
<rect x="200" y="433" width="1" height="1" fill="#ff0000"/>
<rect x="273" y="433" width="1" height="1" fill="#ff0000"/>
<rect x="536" y="433" width="1" height="1" fill="#ff0000"/>
<rect x="16" y="434" width="1" height="1" fill="#ff0000"/>
<rect x="36" y="434" width="1" height="1" fill="#ff0000"/>
<rect x="201" y="434" width="1" height="1" fill="#ff0000"/>
<rect x="272" y="434" width="1" height="1" fill="#ff0000"/>
<rect x="537" y="434" width="1" height="1" fill="#ff0000"/>
<rect x="17" y="435" width="1" height="1" fill="#ff0000"/>
<rect x="35" y="435" width="1" height="1" fill="#ff0000"/>
<rect x="202" y="435" width="2" height="1" fill="#ff0000"/>
<rect x="271" y="435" width="1" height="1" fill="#ff0000"/>
<rect x="538" y="435" width="1" height="1" fill="#ff0000"/>
<rect x="17" y="436" width="1" height="1" fill="#ff0000"/>
<rect x="35" y="436" width="1" height="1" fill="#ff0000"/>
<rect x="204" y="436" width="3" height="1" fill="#ff0000"/>
<rect x="271" y="436" width="1" height="1" fill="#ff0000"/>
<rect x="539" y="436" width="2" height="1" fill="#ff0000"/>
<rect x="18" y="437" width="1" height="1" fill="#ff0000"/>
<rect x="33" y="437" width="2" height="1" fill="#ff0000"/>
<rect x="207" y="437" width="2" height="1" fill="#ff0000"/>
<rect x="270" y="437" width="1" height="1" fill="#ff0000"/>
<rect x="541" y="437" width="2" height="1" fill="#ff0000"/>
<rect x="19" y="438" width="2" height="1" fill="#ff0000"/>
<rect x="32" y="438" width="1" height="1" fill="#ff0000"/>
<rect x="209" y="438" width="2" height="1" fill="#ff0000"/>
<rect x="269" y="438" width="1" height="1" fill="#ff0000"/>
<rect x="543" y="438" width="1" height="1" fill="#ff0000"/>
<rect x="21" y="439" width="1" height="1" fill="#ff0000"/>
<rect x="30" y="439" width="2" height="1" fill="#ff0000"/>
<rect x="211" y="439" width="2" height="1" fill="#ff0000"/>
<rect x="269" y="439" width="1" height="1" fill="#ff0000"/>
<rect x="544" y="439" width="2" height="1" fill="#ff0000"/>
<rect x="22" y="440" width="2" height="1" fill="#ff0000"/>
<rect x="29" y="440" width="1" height="1" fill="#ff0000"/>
<rect x="213" y="440" width="2" height="1" fill="#ff0000"/>
<rect x="268" y="440" width="1" height="1" fill="#ff0000"/>
<rect x="546" y="440" width="2" height="1" fill="#ff0000"/>
<rect x="24" y="441" width="2" height="1" fill="#ff0000"/>
<rect x="27" y="441" width="2" height="1" fill="#ff0000"/>
<rect x="215" y="441" width="1" height="1" fill="#ff0000"/>
<rect x="267" y="441" width="1" height="1" fill="#ff0000"/>
<rect x="548" y="441" width="2" height="1" fill="#ff0000"/>
<rect x="584" y="441" width="13" height="1" fill="#ff0000"/>
<rect x="26" y="442" width="1" height="1" fill="#ff0000"/>
<rect x="216" y="442" width="2" height="1" fill="#ff0000"/>
<rect x="266" y="442" width="1" height="1" fill="#ff0000"/>
<rect x="550" y="442" width="2" height="1" fill="#ff0000"/>
<rect x="580" y="442" width="4" height="1" fill="#ff0000"/>
<rect x="597" y="442" width="4" height="1" fill="#ff0000"/>
<rect x="52" y="412" width="1" height="1" fill="#ff0000"/>
<rect x="184" y="412" width="1" height="1" fill="#ff0000"/>
<rect x="297" y="412" width="2" height="1" fill="#ff0000"/>
<rect x="398" y="412" width="1" height="1" fill="#ff0000"/>
<rect x="468" y="412" width="25" height="1" fill="#ff0000"/>
<rect x="53" y="411" width="1" height="1" fill="#ff0000"/>
<rect x="183" y="411" width="1" height="1" fill="#ff0000"/>
<rect x="299" y="411" width="2" height="1" fill="#ff0000"/>
<rect x="397" y="411" width="1" height="1" fill="#ff0000"/>
<rect x="54" y="410" width="1" height="1" fill="#ff0000"/>
<rect x="183" y="410" width="1" height="1" fill="#ff0000"/>
<rect x="301" y="410" width="3" height="1" fill="#ff0000"/>
<rect x="396" y="410" width="1" height="1" fill="#ff0000"/>
<rect x="55" y="409" width="1" height="1" fill="#ff0000"/>
<rect x="183" y="409" width="1" height="1" fill="#ff0000"/>
<rect x="304" y="409" width="3" height="1" fill="#ff0000"/>
<rect x="395" y="409" width="1" height="1" fill="#ff0000"/>
<rect x="56" y="408" width="1" height="1" fill="#ff0000"/>
<rect x="182" y="408" width="1" height="1" fill="#ff0000"/>
<rect x="307" y="408" width="3" height="1" fill="#ff0000"/>
<rect x="394" y="408" width="1" height="1" fill="#ff0000"/>
<rect x="57" y="407" width="1" height="1" fill="#ff0000"/>
<rect x="182" y="407" width="1" height="1" fill="#ff0000"/>
<rect x="310" y="407" width="4" height="1" fill="#ff0000"/>
<rect x="393" y="407" width="1" height="1" fill="#ff0000"/>
<rect x="58" y="405" width="2" height="1" fill="#ff0000"/>
<rect x="181" y="405" width="1" height="1" fill="#ff0000"/>
<rect x="322" y="405" width="9" height="1" fill="#ff0000"/>
<rect x="391" y="405" width="1" height="1" fill="#ff0000"/>
<rect x="58" y="406" width="1" height="1" fill="#ff0000"/>
<rect x="181" y="406" width="1" height="1" fill="#ff0000"/>
<rect x="314" y="406" width="8" height="1" fill="#ff0000"/>
<rect x="392" y="406" width="1" height="1" fill="#ff0000"/>
<rect x="60" y="404" width="1" height="1" fill="#ff0000"/>
<rect x="181" y="404" width="1" height="1" fill="#ff0000"/>
<rect x="331" y="404" width="2" height="1" fill="#ff0000"/>
<rect x="390" y="404" width="1" height="1" fill="#ff0000"/>
<rect x="61" y="403" width="1" height="1" fill="#ff0000"/>
<rect x="180" y="403" width="1" height="1" fill="#ff0000"/>
<rect x="333" y="403" width="1" height="1" fill="#ff0000"/>
<rect x="389" y="403" width="1" height="1" fill="#ff0000"/>
<rect x="62" y="402" width="1" height="1" fill="#ff0000"/>
<rect x="180" y="402" width="1" height="1" fill="#ff0000"/>
<rect x="334" y="402" width="1" height="1" fill="#ff0000"/>
<rect x="388" y="402" width="1" height="1" fill="#ff0000"/>
<rect x="63" y="401" width="2" height="1" fill="#ff0000"/>
<rect x="180" y="401" width="1" height="1" fill="#ff0000"/>
<rect x="335" y="401" width="2" height="1" fill="#ff0000"/>
<rect x="387" y="401" width="1" height="1" fill="#ff0000"/>
<rect x="65" y="400" width="1" height="1" fill="#ff0000"/>
<rect x="179" y="400" width="1" height="1" fill="#ff0000"/>
<rect x="337" y="400" width="1" height="1" fill="#ff0000"/>
<rect x="386" y="400" width="1" height="1" fill="#ff0000"/>
<rect x="66" y="399" width="1" height="1" fill="#ff0000"/>
<rect x="179" y="399" width="1" height="1" fill="#ff0000"/>
<rect x="338" y="399" width="2" height="1" fill="#ff0000"/>
<rect x="385" y="399" width="1" height="1" fill="#ff0000"/>
<rect x="67" y="398" width="1" height="1" fill="#ff0000"/>
<rect x="179" y="398" width="1" height="1" fill="#ff0000"/>
<rect x="340" y="398" width="3" height="1" fill="#ff0000"/>
<rect x="384" y="398" width="1" height="1" fill="#ff0000"/>
<rect x="68" y="397" width="1" height="1" fill="#ff0000"/>
<rect x="178" y="397" width="1" height="1" fill="#ff0000"/>
<rect x="343" y="397" width="3" height="1" fill="#ff0000"/>
<rect x="382" y="397" width="2" height="1" fill="#ff0000"/>
<rect x="69" y="396" width="1" height="1" fill="#ff0000"/>
<rect x="178" y="396" width="1" height="1" fill="#ff0000"/>
<rect x="346" y="396" width="6" height="1" fill="#ff0000"/>
<rect x="381" y="396" width="1" height="1" fill="#ff0000"/>
<rect x="70" y="395" width="1" height="1" fill="#ff0000"/>
<rect x="177" y="395" width="1" height="1" fill="#ff0000"/>
<rect x="352" y="395" width="4" height="1" fill="#ff0000"/>
<rect x="380" y="395" width="1" height="1" fill="#ff0000"/>
<rect x="71" y="393" width="1" height="1" fill="#ff0000"/>
<rect x="176" y="393" width="1" height="1" fill="#ff0000"/>
<rect x="360" y="393" width="5" height="1" fill="#ff0000"/>
<rect x="376" y="393" width="3" height="1" fill="#ff0000"/>
<rect x="71" y="394" width="1" height="1" fill="#ff0000"/>
<rect x="176" y="394" width="1" height="1" fill="#ff0000"/>
<rect x="356" y="394" width="4" height="1" fill="#ff0000"/>
<rect x="379" y="394" width="1" height="1" fill="#ff0000"/>
<rect x="72" y="392" width="1" height="1" fill="#ff0000"/>
<rect x="175" y="392" width="1" height="1" fill="#ff0000"/>
<rect x="365" y="392" width="11" height="1" fill="#ff0000"/>
<rect x="73" y="391" width="1" height="1" fill="#ff0000"/>
<rect x="174" y="391" width="1" height="1" fill="#ff0000"/>
<rect x="74" y="390" width="1" height="1" fill="#ff0000"/>
<rect x="174" y="390" width="1" height="1" fill="#ff0000"/>
<rect x="75" y="389" width="1" height="1" fill="#ff0000"/>
<rect x="173" y="389" width="1" height="1" fill="#ff0000"/>
<rect x="76" y="388" width="1" height="1" fill="#ff0000"/>
<rect x="172" y="388" width="1" height="1" fill="#ff0000"/>
<rect x="77" y="387" width="1" height="1" fill="#ff0000"/>
<rect x="171" y="387" width="1" height="1" fill="#ff0000"/>
<rect x="78" y="386" width="1" height="1" fill="#ff0000"/>
<rect x="171" y="386" width="1" height="1" fill="#ff0000"/>
<rect x="79" y="385" width="1" height="1" fill="#ff0000"/>
<rect x="170" y="385" width="1" height="1" fill="#ff0000"/>
<rect x="80" y="383" width="1" height="1" fill="#ff0000"/>
<rect x="168" y="383" width="1" height="1" fill="#ff0000"/>
<rect x="80" y="384" width="1" height="1" fill="#ff0000"/>
<rect x="169" y="384" width="1" height="1" fill="#ff0000"/>
<rect x="81" y="382" width="1" height="1" fill="#ff0000"/>
<rect x="167" y="382" width="1" height="1" fill="#ff0000"/>
<rect x="82" y="381" width="1" height="1" fill="#ff0000"/>
<rect x="166" y="381" width="1" height="1" fill="#ff0000"/>
<rect x="83" y="380" width="1" height="1" fill="#ff0000"/>
<rect x="165" y="380" width="1" height="1" fill="#ff0000"/>
<rect x="84" y="379" width="1" height="1" fill="#ff0000"/>
<rect x="164" y="379" width="1" height="1" fill="#ff0000"/>
<rect x="85" y="378" width="1" height="1" fill="#ff0000"/>
<rect x="163" y="378" width="1" height="1" fill="#ff0000"/>
<rect x="86" y="377" width="1" height="1" fill="#ff0000"/>
<rect x="162" y="377" width="1" height="1" fill="#ff0000"/>
<rect x="87" y="375" width="1" height="1" fill="#ff0000"/>
<rect x="160" y="375" width="1" height="1" fill="#ff0000"/>
<rect x="87" y="376" width="1" height="1" fill="#ff0000"/>
<rect x="161" y="376" width="1" height="1" fill="#ff0000"/>
<rect x="88" y="374" width="1" height="1" fill="#ff0000"/>
<rect x="159" y="374" width="1" height="1" fill="#ff0000"/>
<rect x="89" y="373" width="1" height="1" fill="#ff0000"/>
<rect x="158" y="373" width="1" height="1" fill="#ff0000"/>
<rect x="90" y="372" width="1" height="1" fill="#ff0000"/>
<rect x="156" y="372" width="2" height="1" fill="#ff0000"/>
<rect x="91" y="371" width="1" height="1" fill="#ff0000"/>
<rect x="155" y="371" width="1" height="1" fill="#ff0000"/>
<rect x="92" y="370" width="1" height="1" fill="#ff0000"/>
<rect x="154" y="370" width="1" height="1" fill="#ff0000"/>
<rect x="93" y="369" width="1" height="1" fill="#ff0000"/>
<rect x="153" y="369" width="1" height="1" fill="#ff0000"/>
<rect x="94" y="368" width="1" height="1" fill="#ff0000"/>
<rect x="151" y="368" width="2" height="1" fill="#ff0000"/>
<rect x="95" y="367" width="2" height="1" fill="#ff0000"/>
<rect x="149" y="367" width="2" height="1" fill="#ff0000"/>
<rect x="97" y="366" width="1" height="1" fill="#ff0000"/>
<rect x="147" y="366" width="2" height="1" fill="#ff0000"/>
<rect x="98" y="365" width="1" height="1" fill="#ff0000"/>
<rect x="146" y="365" width="1" height="1" fill="#ff0000"/>
<rect x="99" y="364" width="4" height="1" fill="#ff0000"/>
<rect x="144" y="364" width="2" height="1" fill="#ff0000"/>
<rect x="103" y="363" width="4" height="1" fill="#ff0000"/>
<rect x="142" y="363" width="2" height="1" fill="#ff0000"/>
<rect x="107" y="362" width="2" height="1" fill="#ff0000"/>
<rect x="140" y="362" width="2" height="1" fill="#ff0000"/>
<rect x="218" y="443" width="1" height="1" fill="#ff0000"/>
<rect x="266" y="443" width="1" height="1" fill="#ff0000"/>
<rect x="552" y="443" width="2" height="1" fill="#ff0000"/>
<rect x="574" y="443" width="6" height="1" fill="#ff0000"/>
<rect x="601" y="443" width="1" height="1" fill="#ff0000"/>
<rect x="219" y="444" width="1" height="1" fill="#ff0000"/>
<rect x="265" y="444" width="1" height="1" fill="#ff0000"/>
<rect x="554" y="444" width="5" height="1" fill="#ff0000"/>
<rect x="566" y="444" width="8" height="1" fill="#ff0000"/>
<rect x="220" y="445" width="1" height="1" fill="#ff0000"/>
<rect x="265" y="445" width="1" height="1" fill="#ff0000"/>
<rect x="559" y="445" width="7" height="1" fill="#ff0000"/>
<rect x="221" y="446" width="1" height="1" fill="#ff0000"/>
<rect x="264" y="446" width="1" height="1" fill="#ff0000"/>
<rect x="222" y="447" width="1" height="1" fill="#ff0000"/>
<rect x="263" y="447" width="1" height="1" fill="#ff0000"/>
<rect x="222" y="448" width="1" height="1" fill="#ff0000"/>
<rect x="263" y="448" width="1" height="1" fill="#ff0000"/>
<rect x="223" y="449" width="1" height="1" fill="#ff0000"/>
<rect x="262" y="449" width="1" height="1" fill="#ff0000"/>
<rect x="224" y="450" width="1" height="1" fill="#ff0000"/>
<rect x="262" y="450" width="1" height="1" fill="#ff0000"/>
<rect x="225" y="451" width="1" height="1" fill="#ff0000"/>
<rect x="261" y="451" width="1" height="1" fill="#ff0000"/>
<rect x="226" y="452" width="1" height="1" fill="#ff0000"/>
<rect x="260" y="452" width="1" height="1" fill="#ff0000"/>
<rect x="227" y="453" width="4" height="1" fill="#ff0000"/>
<rect x="260" y="453" width="1" height="1" fill="#ff0000"/>
<rect x="231" y="454" width="5" height="1" fill="#ff0000"/>
<rect x="259" y="454" width="1" height="1" fill="#ff0000"/>
<rect x="236" y="455" width="23" height="1" fill="#ff0000"/>
<rect x="2" y="2" width="612" height="1" fill="#000"/>
<rect x="2" y="230" width="612" height="1" fill="#000"/>
<rect x="2" y="2" width="1" height="229" fill="#000"/>
<rect x="613" y="2" width="1" height="229" fill="#000"/>
<rect x="2" y="232" width="612" height="1" fill="#000"/>
<rect x="2" y="345" width="612" height="1" fill="#000"/>
<rect x="2" y="232" width="1" height="114" fill="#000"/>
<rect x="613" y="232" width="1" height="114" fill="#000"/>
<rect x="2" y="347" width="612" height="1" fill="#000"/>
<rect x="2" y="465" width="612" height="1" fill="#000"/>
<rect x="2" y="347" width="1" height="119" fill="#000"/>
<rect x="613" y="347" width="1" height="119" fill="#000"/>
<rect x="614" y="6" width="4" height="1" fill="#000"/>
<text x="619.09" y="10" fill="#000" stroke="#000" textLength="32.30" lengthAdjust="spacingAndGlyphs">1.29545</text>
<rect x="614" y="38" width="4" height="1" fill="#000"/>
<text x="619.09" y="42" fill="#000" stroke="#000" textLength="32.30" lengthAdjust="spacingAndGlyphs">1.29120</text>
<rect x="614" y="70" width="4" height="1" fill="#000"/>
<text x="619.09" y="74" fill="#000" stroke="#000" textLength="32.30" lengthAdjust="spacingAndGlyphs">1.28695</text>
<rect x="614" y="102" width="4" height="1" fill="#000"/>
<text x="619.09" y="106" fill="#000" stroke="#000" textLength="32.30" lengthAdjust="spacingAndGlyphs">1.28270</text>
<rect x="614" y="134" width="4" height="1" fill="#000"/>
<text x="619.09" y="138" fill="#000" stroke="#000" textLength="32.30" lengthAdjust="spacingAndGlyphs">1.27845</text>
<rect x="614" y="166" width="4" height="1" fill="#000"/>
<text x="619.09" y="170" fill="#000" stroke="#000" textLength="32.30" lengthAdjust="spacingAndGlyphs">1.27420</text>
<rect x="614" y="198" width="4" height="1" fill="#000"/>
<text x="619.09" y="202" fill="#000" stroke="#000" textLength="32.30" lengthAdjust="spacingAndGlyphs">1.26995</text>
<rect x="614" y="233" width="4" height="1" fill="#000"/>
<rect x="614" y="344" width="4" height="1" fill="#000"/>
<rect x="614" y="348" width="4" height="1" fill="#000"/>
<rect x="614" y="464" width="4" height="1" fill="#000"/>
<text x="619.00" y="241" fill="#000" stroke="#000" textLength="37.76" lengthAdjust="spacingAndGlyphs">0.006383</text>
<text x="619.00" y="343" fill="#000" stroke="#000" textLength="37.76" lengthAdjust="spacingAndGlyphs">0.000298</text>
<text x="619.00" y="356" fill="#000" stroke="#000" textLength="37.76" lengthAdjust="spacingAndGlyphs">0.006383</text>
<text x="619.00" y="463" fill="#000" stroke="#000" textLength="37.76" lengthAdjust="spacingAndGlyphs">0.000298</text>
<rect x="616" y="154" width="39" height="11" fill="#c0c0c0"/>
<text x="619.06" y="163" fill="#fff" stroke="#fff" stroke-width="0.3" textLength="32.59" lengthAdjust="spacingAndGlyphs">1.27511</text>
<text x="6.02" y="13" fill="#000" stroke="#000" textLength="55.60" lengthAdjust="spacingAndGlyphs">EURUSD,H1</text>
<text y="245" fill="#000" stroke="#000"><tspan x="5.02" textLength="48.53" lengthAdjust="spacingAndGlyphs">StdDev(20)</tspan> <tspan x="57.00" textLength="36.89" lengthAdjust="spacingAndGlyphs">0.001480</tspan></text>
<text y="360" fill="#000" stroke="#000"><tspan x="6.00" textLength="91.03" lengthAdjust="spacingAndGlyphs">Test_StdDevOnArray</tspan> <tspan x="101.00" textLength="36.89" lengthAdjust="spacingAndGlyphs">0.001480</tspan></text>
<rect x="2" y="466" width="1" height="4" fill="#000"/>
<text x="2.00" y="478" fill="#000" stroke="#000" textLength="44.44" lengthAdjust="spacingAndGlyphs">5 Jan 2012</text>
<rect x="66" y="466" width="1" height="4" fill="#000"/>
<text x="66.00" y="478" fill="#000" stroke="#000" textLength="47.20" lengthAdjust="spacingAndGlyphs">5 Jan 13:00</text>
<rect x="130" y="466" width="1" height="4" fill="#000"/>
<text x="130.00" y="478" fill="#000" stroke="#000" textLength="47.20" lengthAdjust="spacingAndGlyphs">5 Jan 21:00</text>
<rect x="194" y="466" width="1" height="4" fill="#000"/>
<text x="194.00" y="478" fill="#000" stroke="#000" textLength="47.20" lengthAdjust="spacingAndGlyphs">6 Jan 05:00</text>
<rect x="258" y="466" width="1" height="4" fill="#000"/>
<text x="258.00" y="478" fill="#000" stroke="#000" textLength="47.20" lengthAdjust="spacingAndGlyphs">6 Jan 13:00</text>
<rect x="322" y="466" width="1" height="4" fill="#000"/>
<text x="322.00" y="478" fill="#000" stroke="#000" textLength="47.20" lengthAdjust="spacingAndGlyphs">6 Jan 21:00</text>
<rect x="386" y="466" width="1" height="4" fill="#000"/>
<text x="386.00" y="478" fill="#000" stroke="#000" textLength="47.20" lengthAdjust="spacingAndGlyphs">9 Jan 06:00</text>
<rect x="450" y="466" width="1" height="4" fill="#000"/>
<text x="450.00" y="478" fill="#000" stroke="#000" textLength="47.20" lengthAdjust="spacingAndGlyphs">9 Jan 14:00</text>
<rect x="514" y="466" width="1" height="4" fill="#000"/>
<text x="514.00" y="478" fill="#000" stroke="#000" textLength="47.20" lengthAdjust="spacingAndGlyphs">9 Jan 22:00</text>
<rect x="578" y="466" width="1" height="4" fill="#000"/>
<text x="578.07" y="478" fill="#000" stroke="#000" textLength="52.54" lengthAdjust="spacingAndGlyphs">10 Jan 06:00</text>
</svg>
</body>
</html>
